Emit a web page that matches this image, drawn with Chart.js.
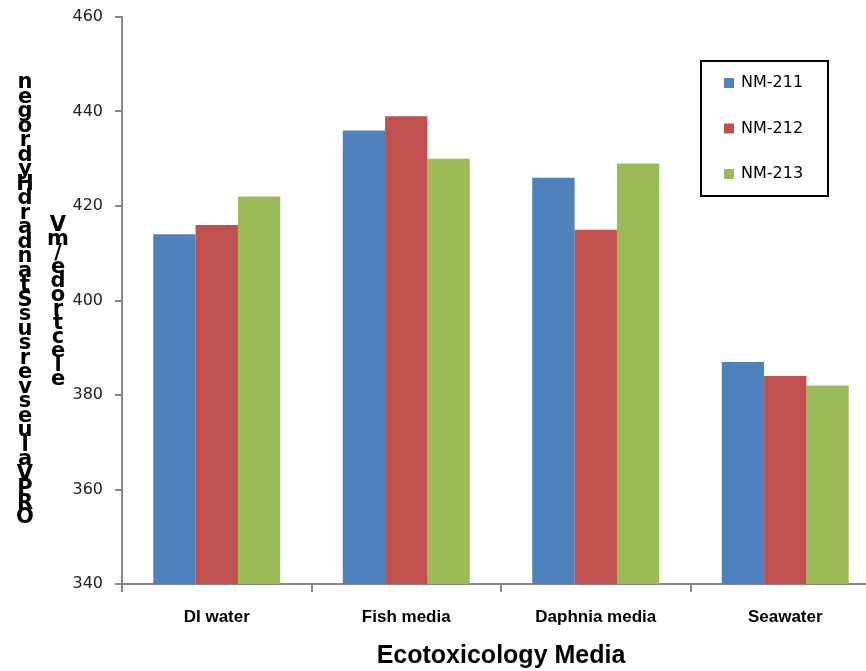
<!DOCTYPE html>
<html>
<head>
<meta charset="utf-8">
<title>ORP values by ecotoxicology medium</title>
<script src="https://cdn.jsdelivr.net/npm/chart.js@4/dist/chart.umd.min.js"></script>
<style>
  html, body { margin: 0; padding: 0; background: #fff; overflow: hidden; }
  #wrap { width: 866px; height: 671px; overflow: hidden; }
  canvas { display: block; }
</style>
</head>
<body>
<div id="wrap"><canvas id="c" width="900" height="671"></canvas></div>
<script>
// Media tested
const categories = ['DI water', 'Fish media', 'Daphnia media', 'Seawater'];
// Series names
const seriesNames = ['NM-211', 'NM-212', 'NM-213'];
// ORP readings (mV) per medium
const nm211 = [414, 436, 426, 387];
const nm212 = [416, 439, 415, 384];
const nm213 = [422, 430, 429, 382];
// Value axis range and step
const yMin = 340, yMax = 460, yStep = 20;
// Axis titles
const xTitle = 'Ecotoxicology Media';
const yTitleLine1 = 'ORPValuesversusStandardHydrogen';
const yTitleLine2 = 'electrode/mV';

const colors = ['#4F81BD', '#C0504D', '#9BBB59'];

// Stacked-character y-axis title (letters upright, reading bottom to top)
const stackedTitle = {
  id: 'stackedTitle',
  afterDraw(chart) {
    const ctx = chart.ctx;
    ctx.save();
    ctx.fillStyle = '#000';
    ctx.font = 'bold 21px "DejaVu Sans", sans-serif';
    ctx.textAlign = 'center';
    ctx.textBaseline = 'middle';
    const drawColumn = (text, x, yBottom, pitch) => {
      for (let i = 0; i < text.length; i++) {
        ctx.fillText(text[i], x, yBottom - i * pitch);
      }
    };
    drawColumn(yTitleLine1, 25, 518, 14.5);
    drawColumn(yTitleLine2, 58, 380, 14.0);
    ctx.restore();
  }
};

// Boxed legend in the upper right of the plot
const boxLegend = {
  id: 'boxLegend',
  afterDraw(chart) {
    const ctx = chart.ctx;
    ctx.save();
    ctx.strokeStyle = '#000';
    ctx.lineWidth = 2;
    ctx.strokeRect(701, 61, 127, 135);
    ctx.font = '16px "DejaVu Sans", sans-serif';
    ctx.textBaseline = 'middle';
    ctx.textAlign = 'left';
    chart.data.datasets.forEach((ds, i) => {
      const cy = 83 + i * 45.5;
      ctx.fillStyle = ds.backgroundColor;
      ctx.fillRect(724, cy - 5, 10, 10);
      ctx.fillStyle = '#000';
      ctx.fillText(ds.label, 741, cy);
    });
    ctx.restore();
  }
};

const seriesValues = [nm211, nm212, nm213];

new Chart(document.getElementById('c'), {
  type: 'bar',
  data: {
    labels: categories,
    datasets: seriesNames.map((name, i) => ({
      label: name,
      data: seriesValues[i],
      backgroundColor: colors[i],
      borderWidth: 0,
      categoryPercentage: 0.67,
      barPercentage: 1.0
    }))
  },
  options: {
    responsive: false,
    animation: false,
    devicePixelRatio: 1,
    layout: { padding: { top: 17, right: 20, left: 0, bottom: 0 } },
    plugins: {
      legend: { display: false },
      tooltip: { enabled: false }
    },
    scales: {
      x: {
        grid: { display: true, drawOnChartArea: false, drawTicks: true, tickLength: 8, color: '#888', lineWidth: 2, offset: true },
        border: { color: '#888', width: 2 },
        ticks: {
          color: '#000',
          padding: 15,
          font: { family: '"Liberation Sans", Arial, sans-serif', size: 17, weight: 'bold' }
        },
        title: {
          display: true,
          text: xTitle,
          color: '#000',
          padding: { top: 15, bottom: 0 },
          font: { family: '"Liberation Sans", Arial, sans-serif', size: 25, weight: 'bold' }
        },
        afterFit(scale) { scale.height = 87; scale.paddingLeft = 0; scale.paddingRight = 0; }
      },
      y: {
        min: yMin,
        max: yMax,
        grid: { display: true, drawOnChartArea: false, drawTicks: true, tickLength: 7, color: '#888', lineWidth: 2 },
        border: { color: '#888', width: 2 },
        ticks: {
          stepSize: yStep,
          color: '#222',
          padding: 12,
          font: { family: '"DejaVu Sans", sans-serif', size: 16 }
        },
        afterFit(scale) { scale.width = 122; scale.paddingTop = 0; scale.paddingBottom = 0; }
      }
    }
  },
  plugins: [stackedTitle, boxLegend]
});
</script>
</body>
</html>
